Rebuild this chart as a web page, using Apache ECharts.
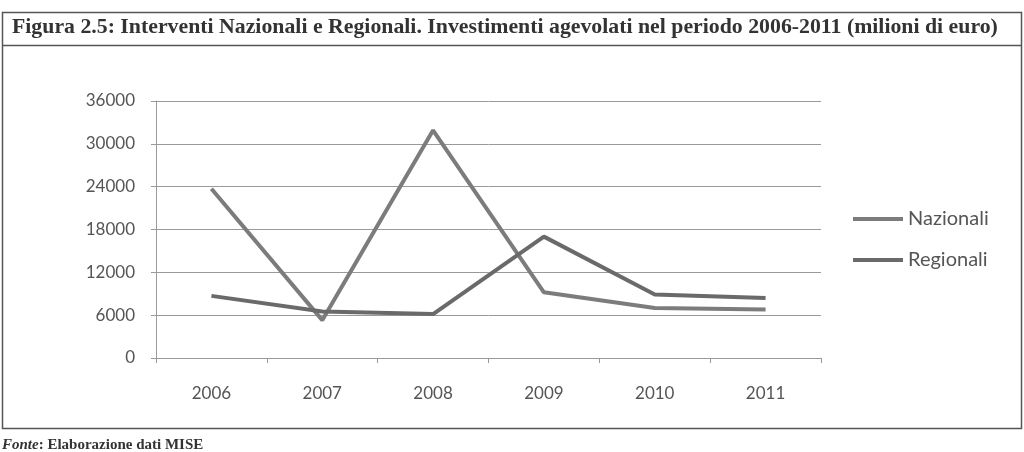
<!DOCTYPE html>
<html>
<head>
<meta charset="utf-8">
<script src="https://cdn.jsdelivr.net/npm/echarts@6/dist/echarts.min.js"></script>
<style>
  html, body { margin: 0; padding: 0; background: #fff; }
  #chart { width: 1024px; height: 452px; }
</style>
</head>
<body>
<div id="chart"></div>
<script>
// dati (milioni di euro)
const anni = ['2006', '2007', '2008', '2009', '2010', '2011']
const nazionali = [23700, 5300, 31900, 9200, 7000, 6800]
const regionali = [8700, 6500, 6150, 17000, 8900, 8400]
const yTicks = [0, 6000, 12000, 18000, 24000, 30000, 36000]

const myChart = echarts.init(document.getElementById('chart'))

const option = {
  backgroundColor: '#fff',
  animation: false,
  title: [
    {
      text: 'Figura 2.5: Interventi Nazionali e Regionali. Investimenti agevolati nel periodo 2006-2011 (milioni di euro)',
      left: 7,
      top: 11,
      textStyle: {
        fontFamily: 'Liberation Serif',
        fontWeight: 'bold',
        fontSize: 21.8,
        color: '#333',
      },
    },
    {
      text: '{i|Fonte}{b|: Elaborazione dati MISE}',
      left: 2,
      top: 438,
      padding: 0,
      textStyle: {
        rich: {
          i: { fontFamily: 'Liberation Serif', fontStyle: 'italic', fontWeight: 'bold', fontSize: 15, color: '#333' },
          b: { fontFamily: 'Liberation Serif', fontWeight: 'bold', fontSize: 15, color: '#333' },
        },
      },
    },
  ],
  graphic: [
    { type: 'rect', shape: { x: 2.5, y: 12.5, width: 1019, height: 416 }, style: { fill: 'none', stroke: '#555', lineWidth: 1.5 } },
    { type: 'line', shape: { x1: 2, y1: 45.5, x2: 1022, y2: 45.5 }, style: { stroke: '#555', lineWidth: 1.5 } },
  ],
  legend: {
    orient: 'vertical',
    left: 848,
    top: 204,
    itemGap: 21,
    icon: 'rect',
    itemWidth: 50,
    itemHeight: 4,
    textStyle: { fontFamily: 'Lato', fontSize: 20, color: '#555' },
    data: ['Nazionali', 'Regionali'],
  },
  grid: {
    left: 156,
    right: 203,
    top: 101,
    bottom: 94,
  },
  xAxis: {
    type: 'category',
    data: anni,
    boundaryGap: true,
    axisLine: { lineStyle: { color: '#999', width: 1 } },
    axisTick: { show: true, length: 5, inside: false, lineStyle: { color: '#999' } },
    axisLabel: { fontFamily: 'Lato', fontSize: 17, color: '#555', margin: 27 },
  },
  yAxis: {
    type: 'value',
    min: yTicks[0],
    max: yTicks[yTicks.length - 1],
    interval: 6000,
    axisLine: { show: true, lineStyle: { color: '#999', width: 1 } },
    axisTick: { show: true, length: 5, lineStyle: { color: '#999' } },
    axisLabel: { fontFamily: 'Lato', fontSize: 17, color: '#555', margin: 21, formatter: (v) => String(v) },
    splitLine: { lineStyle: { color: '#9a9a9a', width: 1 } },
  },
  series: [
    {
      name: 'Nazionali',
      type: 'line',
      data: nazionali,
      symbol: 'none',
      lineStyle: { color: '#7c7c7c', width: 4 },
      itemStyle: { color: '#7c7c7c' },
    },
    {
      name: 'Regionali',
      type: 'line',
      data: regionali,
      symbol: 'none',
      lineStyle: { color: '#6a6a6a', width: 4 },
      itemStyle: { color: '#6a6a6a' },
    },
  ],
}
myChart.setOption(option)
</script>
</body>
</html>
